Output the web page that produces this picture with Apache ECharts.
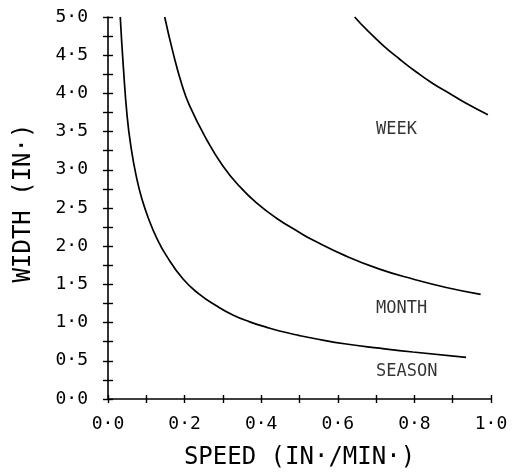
<!DOCTYPE html>
<html>
<head>
<meta charset="utf-8">
<script src="https://cdn.jsdelivr.net/npm/echarts@6/dist/echarts.min.js"></script>
<style>
  html, body { margin: 0; padding: 0; background: #fff; }
  #chart { width: 517px; height: 472px; }
</style>
</head>
<body>
<div id="chart"></div>
<script>
// Curve readings: width (in.) against speed (in./min.)
const seasonX = [0.032, 0.040, 0.050, 0.060, 0.074, 0.089, 0.109, 0.126, 0.152, 0.196, 0.239, 0.283, 0.326, 0.370, 0.413, 0.448, 0.500, 0.535, 0.622, 0.709, 0.796, 0.935];
const seasonY = [5.00, 4.35, 3.70, 3.30, 2.91, 2.61, 2.32, 2.12, 1.88, 1.57, 1.37, 1.22, 1.10, 1.01, 0.94, 0.89, 0.83, 0.795, 0.72, 0.665, 0.615, 0.545];

const monthX = [0.148, 0.170, 0.192, 0.213, 0.257, 0.300, 0.344, 0.387, 0.439, 0.500, 0.535, 0.622, 0.709, 0.796, 0.883, 0.973];
const monthY = [5.00, 4.53, 4.13, 3.84, 3.40, 3.05, 2.78, 2.57, 2.37, 2.18, 2.08, 1.87, 1.70, 1.57, 1.46, 1.37];

const weekX = [0.644, 0.674, 0.718, 0.761, 0.805, 0.848, 0.892, 0.935, 0.992];
const weekY = [5.00, 4.84, 4.63, 4.45, 4.28, 4.13, 4.00, 3.87, 3.72];

// Curve names and where their captions sit
const curveNames = ['WEEK', 'MONTH', 'SEASON'];
const captionX = [0.70, 0.70, 0.70];
const captionY = [3.53, 1.18, 0.36];

// Tick labels
const xTickValues = [0.0, 0.2, 0.4, 0.6, 0.8, 1.0];
const yTickValues = [0.0, 0.5, 1.0, 1.5, 2.0, 2.5, 3.0, 3.5, 4.0, 4.5, 5.0];

const FONT = '"DejaVu Sans Mono", monospace';
const INK = '#000';

function dotted(v) { return v.toFixed(1).replace('.', '\u00B7'); }
function pairs(xs, ys) { return xs.map((x, i) => [x, ys[i]]); }
function labelFor(values) {
  return function (v) {
    return values.some(t => Math.abs(t - v) < 1e-6) ? dotted(v) : '';
  };
}

function curve(name, xs, ys) {
  return {
    name: name,
    type: 'line',
    data: pairs(xs, ys),
    smooth: 0.5,
    symbol: 'none',
    lineStyle: { color: INK, width: 1.7 },
    silent: true
  };
}

const chart = echarts.init(document.getElementById('chart'), null, { renderer: 'canvas' });

chart.setOption({
  backgroundColor: '#fff',
  animation: false,
  grid: { left: 108, right: 26, top: 17, bottom: 73, containLabel: false, outerBoundsMode: 'none' },
  xAxis: [
    {
      type: 'value', min: 0, max: 1, interval: 0.1, position: 'bottom',
      name: 'SPEED (IN\u00B7/MIN\u00B7)', nameLocation: 'middle', nameGap: 47,
      nameTextStyle: { fontFamily: FONT, fontSize: 24, color: INK },
      axisLine: { show: true, lineStyle: { color: INK, width: 1.6 } },
      axisTick: { show: true, inside: false, length: 4, lineStyle: { color: INK, width: 1.4 } },
      axisLabel: { show: true, margin: 16, fontFamily: FONT, fontSize: 18, color: INK, formatter: labelFor(xTickValues) },
      splitLine: { show: false }
    },
    {
      type: 'value', min: 0, max: 1, interval: 0.1, position: 'bottom',
      axisLine: { show: false },
      axisTick: { show: true, inside: true, length: 4, lineStyle: { color: INK, width: 1.4 } },
      axisLabel: { show: false },
      splitLine: { show: false }
    }
  ],
  yAxis: [
    {
      type: 'value', min: 0, max: 5, interval: 0.25, position: 'left',
      name: 'WIDTH (IN\u00B7)', nameLocation: 'middle', nameGap: 72,
      nameTextStyle: { fontFamily: FONT, fontSize: 24, color: INK, padding: [0, 0, 0, 10] },
      axisLine: { show: true, lineStyle: { color: INK, width: 1.6 } },
      axisTick: { show: true, inside: false, length: 5, lineStyle: { color: INK, width: 1.4 } },
      axisLabel: { show: true, margin: 20, fontFamily: FONT, fontSize: 18, color: INK, formatter: labelFor(yTickValues) },
      splitLine: { show: false }
    },
    {
      type: 'value', min: 0, max: 5, interval: 0.25, position: 'left',
      axisLine: { show: false },
      axisTick: { show: true, inside: true, length: 5, lineStyle: { color: INK, width: 1.4 } },
      axisLabel: { show: false },
      splitLine: { show: false }
    }
  ],
  series: [
    curve('WEEK', weekX, weekY),
    curve('MONTH', monthX, monthY),
    curve('SEASON', seasonX, seasonY),
    {
      name: 'captions',
      type: 'scatter',
      symbolSize: 0,
      silent: true,
      data: curveNames.map((n, i) => ({ name: n, value: [captionX[i], captionY[i]] })),
      label: {
        show: true, position: 'right', distance: 0,
        formatter: p => p.name,
        fontFamily: FONT, fontSize: 17, color: INK
      }
    }
  ]
});
</script>
</body>
</html>
